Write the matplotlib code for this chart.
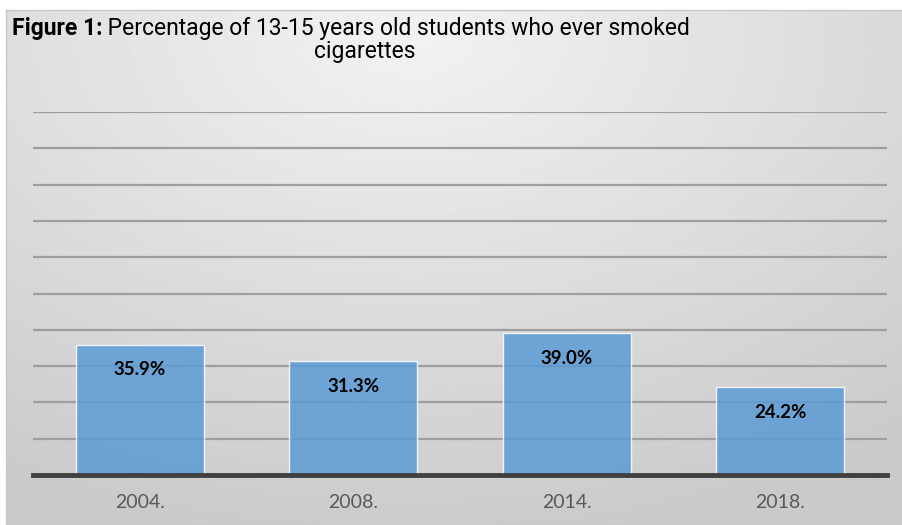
import numpy as np
import matplotlib.pyplot as plt

years = ["2004.", "2008.", "2014.", "2018."]
values = [35.9, 31.3, 39.0, 24.2]
labels = ["35.9%", "31.3%", "39.0%", "24.2%"]

W, H = 903, 525
fig = plt.figure(figsize=(W / 100, H / 100), dpi=100)
fig.patch.set_facecolor("white")

# gray gradient panel behind the chart
bg = fig.add_axes([6 / W, 0, 1 - 6 / W, (H - 10) / H])
yy, xx = np.mgrid[0:1:300j, 0:1:500j]
dist = np.sqrt(((xx - 0.45) * 1.0) ** 2 + ((yy - 0.05) * 0.9) ** 2)
shade = 0.95 - 0.16 * np.clip(dist / 0.9, 0, 1)
bg.imshow(shade, cmap="gray", vmin=0, vmax=1, aspect="auto", extent=[0, 1, 1, 0])
bg.set_xticks([])
bg.set_yticks([])
for s in bg.spines.values():
    s.set_color("#c8c8c8")
    s.set_linewidth(1)

# main plot
ax = fig.add_axes([33 / W, (H - 475) / H, (887 - 33) / W, (475 - 112) / H])
ax.patch.set_alpha(0)
x = np.arange(len(years))
ax.bar(x, values, width=0.6, color="#5b9bd5", alpha=0.85, edgecolor="white", linewidth=1, zorder=3)
ax.set_xlim(-0.5, len(years) - 0.5)
ax.set_ylim(0, 100)
ax.set_yticks(np.arange(10, 101, 10))
ax.yaxis.grid(True, color="#9e9e9e", linewidth=1.6, zorder=1)
ax.tick_params(axis="y", left=False, labelleft=False)
ax.set_xticks(x)
ax.set_xticklabels(years, fontsize=14, color="#595959", family="Lato")
ax.tick_params(axis="x", length=0, pad=14)
for side in ["top", "right", "left"]:
    ax.spines[side].set_visible(False)
ax.spines["bottom"].set_color("#404040")
ax.spines["bottom"].set_linewidth(3.5)
ax.spines["bottom"].set_zorder(5)

for xi, v, lab in zip(x, values, labels):
    ax.annotate(lab, (xi, v), xytext=(0, -18), textcoords="offset points",
                ha="center", va="center", fontsize=13.5, fontweight="bold",
                family="Lato", color="black", zorder=6)

# title
tfont = "Roboto"
tsize = 16.5
t1 = fig.text(12 / W, 1 - 35 / H, "Figure 1:", fontsize=tsize, fontweight="bold",
              family=tfont, va="baseline", ha="left")
fig.canvas.draw()
ax.annotate(" Percentage of 13-15 years old students who ever smoked", xy=(1, 0), xycoords=t1,
            va="bottom", ha="left", fontsize=tsize, family=tfont,
            annotation_clip=False)
fig.text(365 / W, 1 - 58 / H, "cigarettes", fontsize=tsize, family=tfont,
         va="baseline", ha="center")

fig.savefig("out.png", dpi=100)
